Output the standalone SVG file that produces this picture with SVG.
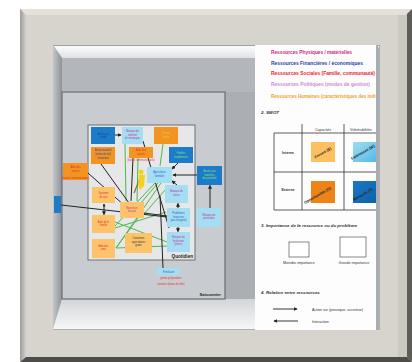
<svg xmlns="http://www.w3.org/2000/svg" width="412" height="362" viewBox="0 0 412 362">
<defs>
<linearGradient id="gLeft" x1="0" x2="1" y1="0" y2="0"><stop offset="0" stop-color="#9e9c97"/><stop offset="1" stop-color="#d3d0c9"/></linearGradient>
<linearGradient id="gTopBev" x1="0" x2="0" y1="0" y2="1"><stop offset="0" stop-color="#ffffff"/><stop offset="1" stop-color="#dfe1e4"/></linearGradient>
<linearGradient id="gLeftBev" x1="0" x2="1" y1="0" y2="0"><stop offset="0" stop-color="#c3c6ca"/><stop offset="1" stop-color="#8e9196"/></linearGradient>
<linearGradient id="gBotBev" x1="0" x2="0" y1="0" y2="1"><stop offset="0" stop-color="#d2d5d9"/><stop offset="1" stop-color="#f7f7f8"/></linearGradient>
<linearGradient id="gCyan" x1="0" x2="1" y1="0" y2="1"><stop offset="0" stop-color="#9fdcf2"/><stop offset="1" stop-color="#4fb8e6"/></linearGradient>
<linearGradient id="gBlue" x1="0" x2="1" y1="0" y2="1"><stop offset="0" stop-color="#1a78c6"/><stop offset="1" stop-color="#0f5fa8"/></linearGradient>
<marker id="ah" viewBox="0 0 6 6" refX="5" refY="3" markerWidth="4" markerHeight="4" orient="auto"><path d="M0,0 L6,3 L0,6 z" fill="#222"/></marker>
<marker id="ahs" viewBox="0 0 6 6" refX="5" refY="3" markerWidth="3" markerHeight="3" orient="auto-start-reverse"><path d="M0,0 L6,3 L0,6 z" fill="#222"/></marker>
<clipPath id="pageClip"><rect x="255" y="45" width="121" height="285"/></clipPath>
</defs>
<style>
.t{font-family:"Liberation Sans",Arial,sans-serif}
.n{font-family:"Liberation Sans",Arial,sans-serif;font-size:2.6px;text-anchor:middle}
.blk{stroke:#222;stroke-width:1;fill:none}
.grn{stroke:#4db94a;stroke-width:1;fill:none}
.bl{fill:#1d7cc8}
.or{fill:#f39322}
.lo{fill:#fcc36b}
.cy{fill:#a5def2}
.leg{font-family:"Liberation Sans",Arial,sans-serif;font-size:4.8px;font-weight:bold}
.hd{font-family:"Liberation Sans",Arial,sans-serif;font-size:4.4px;font-style:italic;font-weight:bold;fill:#333}
.sm{font-family:"Liberation Sans",Arial,sans-serif;font-size:3.6px;fill:#333}
.sw{font-family:"Liberation Sans",Arial,sans-serif;font-size:3.8px;font-weight:bold;fill:#222}
</style>
<rect width="412" height="362" fill="#ffffff"/>
<g id="frame">
<rect x="20" y="9" width="392" height="353" fill="#d7d4cd"/>
<polygon points="20,9 412,9 405,15 26,15" fill="#e4e1db"/>
<polygon points="20,9 26,15 26,356 20,362" fill="url(#gLeft)"/>
<polygon points="412,9 412,362 407,357 407,14" fill="#5e5c59"/>
<polygon points="20,362 412,362 407,357 26,357" fill="#4e4c4a"/>
<rect x="398" y="15" width="9" height="342" fill="#cbc8c1"/>
</g>
<g id="opening">
<rect x="53" y="45" width="327" height="285" fill="#abafb4"/>
<polygon points="53,45 380,45 372,58 62,58" fill="url(#gTopBev)"/>
<line x1="53" y1="45.5" x2="380" y2="45.5" stroke="#9c9ea2" stroke-width="1"/>
<polygon points="53,45 62,58 62,299 53,329" fill="url(#gLeftBev)"/>
<polygon points="53,329 62,299 256,299 256,329" fill="url(#gBotBev)"/>
<rect x="62" y="58" width="193" height="34" fill="#b3b6bb"/>
</g>
<g id="panel">
<rect x="62" y="92" width="163" height="207" fill="#c8cbcf" stroke="#6c6f73" stroke-width="1.2"/>
<rect x="88" y="125" width="107" height="135" fill="#e6e7e9" stroke="#6e6e6e" stroke-width="1"/>
<text class="t" x="221" y="296" font-size="4.2" font-weight="bold" text-anchor="end" fill="#222">Saisonnier</text>
<text class="t" x="193" y="258" font-size="4.6" font-weight="bold" text-anchor="end" fill="#222">Quotidien</text>
</g>
<g id="connectors">
<line class="grn" x1="125" y1="144" x2="126" y2="201"/>
<line class="grn" x1="163" y1="144" x2="160" y2="166"/>
<line class="grn" x1="138" y1="158" x2="137" y2="201"/>
<line class="grn" x1="155" y1="183" x2="115" y2="226"/>
<line class="grn" x1="158" y1="183" x2="128" y2="218"/>
<line class="grn" x1="161" y1="183" x2="116" y2="248"/>
<line class="grn" x1="115" y1="222" x2="167" y2="242"/>
<line class="grn" x1="116" y1="248" x2="167" y2="246"/>
<line class="grn" x1="116" y1="248" x2="138" y2="218"/>
<line class="grn" x1="144" y1="214" x2="166" y2="189"/>
<line class="grn" x1="115" y1="228" x2="166" y2="212"/>
<line class="blk" x1="115" y1="135" x2="121" y2="135" marker-end="url(#ah)"/>
<line class="blk" x1="101" y1="164" x2="129" y2="203"/>
<line class="blk" x1="88" y1="173" x2="125" y2="206"/>
<line class="blk" x1="133" y1="158" x2="131" y2="201"/>
<line class="blk" x1="143" y1="141" x2="169" y2="228"/>
<line class="blk" x1="160" y1="196" x2="163" y2="268"/>
<line class="blk" x1="61" y1="205" x2="167" y2="217"/>
<line class="blk" x1="144" y1="213" x2="167" y2="216"/>
<line class="blk" x1="178" y1="163" x2="172" y2="169" marker-end="url(#ah)"/>
<line class="blk" x1="197" y1="175" x2="173" y2="175" marker-end="url(#ah)"/>
<line class="blk" x1="177" y1="185" x2="172" y2="181" marker-end="url(#ah)"/>
<line class="blk" x1="178" y1="208" x2="178" y2="203.5" marker-end="url(#ah)"/>
<line class="blk" x1="210" y1="208" x2="210" y2="185.5" marker-end="url(#ah)"/>
<line class="blk" x1="178" y1="227" x2="178" y2="231.5" marker-end="url(#ah)"/>
<line class="blk" x1="104" y1="204" x2="104" y2="214.5" marker-start="url(#ahs)" marker-end="url(#ah)"/>
</g>
<g id="n1"><rect class="bl" x="91" y="127" width="24" height="17"/><text class="n" x="103" y="135" fill="#1a3f8f">Accès au</text><text class="n" x="103" y="138" fill="#1a3f8f">crédit</text></g>
<g id="n2"><rect class="cy" x="122" y="127" width="21" height="17"/><text class="n" x="132.5" y="132" fill="#c0309c">Manque de</text><text class="n" x="132.5" y="135.5" fill="#c0309c">matériel</text><text class="n" x="132.5" y="139" fill="#c0309c">de montagne</text></g>
<g id="n3"><rect class="or" x="154" y="127" width="24" height="17"/><text class="n" x="166" y="134" fill="#e8d14a">Terrain</text><text class="n" x="166" y="137.5" fill="#e8d14a">fertile</text></g>
<g id="n4"><rect class="or" x="91" y="147" width="24" height="17"/><text class="n" x="103" y="151" fill="#2a3fa0">Achat matériel</text><text class="n" x="103" y="155" fill="#2a3fa0">(vente de lait)</text><text class="n" x="103" y="159" fill="#2a3fa0">économie</text></g>
<g id="n5"><rect class="or" x="129" y="147" width="24" height="11"/><text class="n" x="141" y="151" fill="#e53030">Aide des</text><text class="n" x="141" y="154.5" fill="#e53030">voisins</text><text class="n" x="141" y="160.5" fill="#e53030">(travail communautaire)</text></g>
<g id="n6"><rect class="bl" x="169" y="147" width="24" height="16"/><text class="n" x="181" y="154" fill="#8fe07a">Faibles</text><text class="n" x="181" y="157.5" fill="#8fe07a">rendements</text></g>
<g id="n7"><rect class="or" x="63" y="163" width="25" height="17"/><text class="n" x="75.5" y="168" fill="#e53030">Aide des</text><text class="n" x="75.5" y="171.5" fill="#e53030">voisins</text><text class="n" x="75.5" y="179" fill="#e53030">(travail communautaire)</text></g>
<g id="n8"><rect class="cy" x="147" y="167" width="25" height="16"/><text class="n" x="159.5" y="173" fill="#2a5fc0">Agriculture</text><text class="n" x="159.5" y="176.5" fill="#2a5fc0">familiale</text></g>
<g id="n9"><rect class="bl" x="197" y="166" width="25" height="19"/><text class="n" x="209.5" y="172" fill="#8fe07a">Accès aux</text><text class="n" x="209.5" y="175.5" fill="#8fe07a">marchés</text><text class="n" x="209.5" y="179" fill="#8fe07a">de proximité</text></g>
<g id="n10"><rect class="lo" x="92" y="187" width="23" height="16"/><text class="n" x="103.5" y="194" fill="#e53030">Système</text><text class="n" x="103.5" y="197.5" fill="#e53030">de tour</text></g>
<g id="n11"><rect class="cy" x="165" y="185" width="23" height="18"/><text class="n" x="176.5" y="192" fill="#c0309c">Manque de</text><text class="n" x="176.5" y="195.5" fill="#c0309c">terres</text></g>
<g id="n12"><rect class="bl" x="54" y="196" width="7" height="17"/></g>
<g id="n13"><rect class="lo" x="120" y="202" width="24" height="16"/><text class="n" x="132" y="208.5" fill="#c0309c">Nourriture</text><text class="n" x="132" y="212" fill="#c0309c">du jour</text></g>
<g id="n14"><rect class="cy" x="167" y="208" width="23" height="19"/><text class="n" x="178.5" y="214" fill="#2a5fc0">Problèmes</text><text class="n" x="178.5" y="217.5" fill="#2a5fc0">financiers</text><text class="n" x="178.5" y="221" fill="#2a5fc0">(pas d'argent)</text></g>
<g id="n15"><rect class="cy" x="197" y="208" width="24" height="19"/><text class="n" x="209" y="215.5" fill="#c0309c">Manque de</text><text class="n" x="209" y="219" fill="#c0309c">pesticides</text></g>
<g id="n16"><rect class="lo" x="92" y="215" width="23" height="18"/><text class="n" x="103.5" y="222.5" fill="#e53030">Aide de la</text><text class="n" x="103.5" y="226" fill="#e53030">famille</text></g>
<g id="n17"><rect class="lo" x="125" y="233" width="27" height="20"/><text class="n" x="138.5" y="239" fill="#333">Coutumes</text><text class="n" x="138.5" y="242.5" fill="#333">agricultures</text><text class="n" x="138.5" y="246" fill="#333">gratis</text></g>
<g id="n18"><rect class="cy" x="167" y="232" width="23" height="20"/><text class="n" x="178.5" y="238" fill="#c0309c">Manque de</text><text class="n" x="178.5" y="241.5" fill="#c0309c">fertilisants</text><text class="n" x="178.5" y="245" fill="#c0309c">(chers)</text></g>
<g id="n19"><rect class="lo" x="92" y="239" width="23" height="19"/><text class="n" x="103.5" y="246.5" fill="#e53030">Aide des</text><text class="n" x="103.5" y="250" fill="#e53030">amis</text></g>
<g id="n20"><rect class="cy" x="157" y="268" width="23" height="7"/><text class="n" x="168.5" y="272.5" fill="#2a5fc0">Fertilisant</text><text class="n" x="171" y="279" fill="#e53030">pointe prépondère</text><text class="n" x="171" y="285" fill="#e53030">sanitaire (mous de tête)</text></g>
<g id="figure">
<line x1="141" y1="176" x2="134" y2="193" stroke="#a0622a" stroke-width="1.2"/>
<circle cx="141" cy="172" r="2.6" fill="#f2d21c"/>
<path d="M139,175 L145,175 L144,186 L140,190 L138,184 z" fill="#f2d21c"/>
</g>
<g id="page">
<rect x="255" y="45" width="123" height="285" fill="#fdfdfd"/>
<line x1="377" y1="45" x2="377" y2="330" stroke="#8e9094" stroke-width="1.5"/>
<g clip-path="url(#pageClip)">
<text class="leg" x="271" y="53.5" fill="#d4267a" textLength="81" lengthAdjust="spacingAndGlyphs">Ressources Physiques / matérielles</text>
<text class="leg" x="271" y="64.5" fill="#2a3fa0" textLength="92" lengthAdjust="spacingAndGlyphs">Ressources Financières / économiques</text>
<text class="leg" x="271" y="75" fill="#e8262a" textLength="104" lengthAdjust="spacingAndGlyphs">Ressources Sociales (Famille, communauté)</text>
<text class="leg" x="271" y="86" fill="#d28ad4" textLength="99" lengthAdjust="spacingAndGlyphs">Ressources Politiques (modes de gestion)</text>
<text class="leg" x="271" y="97.5" fill="#f0a030" textLength="118" lengthAdjust="spacingAndGlyphs">Ressources Humaines (caractéristiques des individus)</text>
<text class="hd" x="261" y="114">2. SWOT</text>
<g id="swot" stroke="#333" stroke-width="0.8" fill="none">
<line x1="274" y1="133" x2="378" y2="133"/>
<line x1="274" y1="172" x2="378" y2="172"/>
<line x1="274" y1="210" x2="378" y2="210"/>
<line x1="274" y1="133" x2="274" y2="210"/>
<line x1="302" y1="124" x2="302" y2="210"/>
<line x1="344" y1="124" x2="344" y2="210"/>
</g>
<text class="sm" x="323" y="130.5" text-anchor="middle">Capacités</text>
<text class="sm" x="350" y="130.5">Vulnérabilités</text>
<text class="sm" x="288" y="153.5" text-anchor="middle" font-weight="bold">Interne</text>
<text class="sm" x="288" y="191" text-anchor="middle" font-weight="bold">Externe</text>
<rect x="311" y="142" width="24" height="20" fill="#fcc060"/>
<rect x="353" y="142" width="26" height="20" fill="url(#gCyan)"/>
<rect x="311" y="181" width="24" height="22" fill="#ee8418"/>
<rect x="353" y="181" width="26" height="22" fill="url(#gBlue)"/>
<text class="sw" x="323" y="154" text-anchor="middle" transform="rotate(-30 323 153)">Forces (S)</text>
<text class="sw" x="352" y="160" transform="rotate(-30 352 160)">Faiblesses (W)</text>
<text class="sw" x="305" y="204" transform="rotate(-30 305 204)">Opportunités (O)</text>
<text class="sw" x="354" y="201" transform="rotate(-30 354 201)">Menaces (T)</text>
<text class="hd" x="261" y="227">3. Importance de la ressource ou du problème</text>
<rect x="289" y="242" width="20" height="15" fill="#fff" stroke="#555" stroke-width="0.7"/>
<rect x="340" y="237" width="26" height="20" fill="#fff" stroke="#555" stroke-width="0.7"/>
<text class="sm" x="299" y="264" text-anchor="middle" fill="#888">Moindre importance</text>
<text class="sm" x="354" y="264" text-anchor="middle" fill="#888">Grande importance</text>
<text class="hd" x="261" y="294">4. Relation entre ressources</text>
<line x1="273" y1="309" x2="297" y2="309" stroke="#222" stroke-width="0.9" marker-end="url(#ah)"/>
<line x1="298" y1="321" x2="274" y2="321" stroke="#222" stroke-width="0.9" marker-end="url(#ah)"/>
<text class="sm" x="312" y="310.5" fill="#666">Action sur (provoque, accentue)</text>
<text class="sm" x="312" y="322.5" fill="#aaa">Interaction</text>
</g>
</g>
</svg>
